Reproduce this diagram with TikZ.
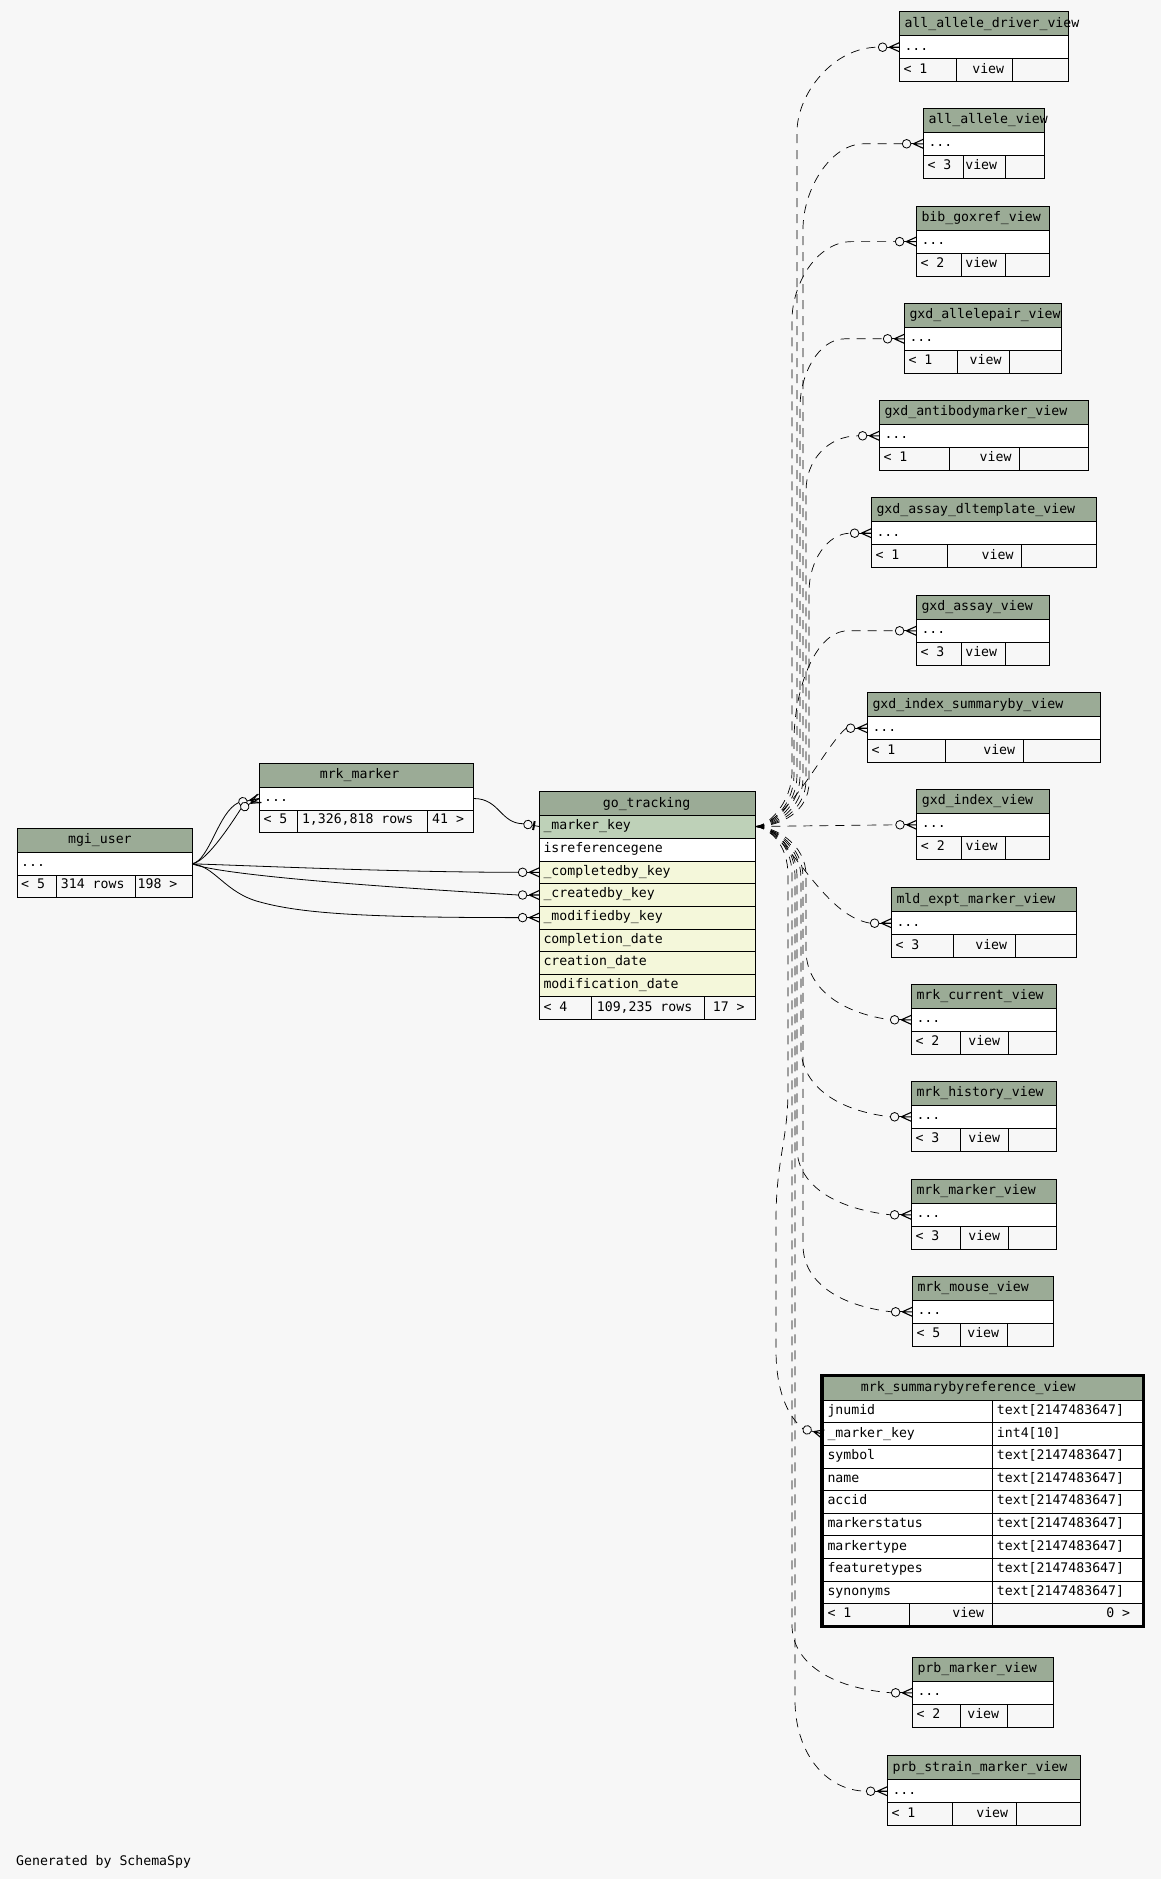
\documentclass[tikz,border=0pt]{standalone}
\usepackage{fontspec}
\newfontfamily\monofam{DejaVu Sans Mono}
\newcommand\tf{\monofam\fontsize{13.2pt}{15pt}\selectfont}
\definecolor{hdr}{HTML}{9BAB96}
\definecolor{pkc}{HTML}{BED1B8}
\definecolor{fkc}{HTML}{F4F7DA}
\definecolor{bgc}{HTML}{F7F7F7}
\tikzset{
 tbl/.style={draw=black,line width=0.9pt},
 txt/.style={anchor=base west,inner sep=0pt,font=\tf},
 conn/.style={line width=0.7pt,dash pattern=on 9pt off 7pt},
 rel/.style={line width=0.8pt},
}
% view table: #1 name, #2 left, #3 top, #4 right, #5 div1, #6 div2, #7 title, #8 count
\newcommand\vtab[8]{%
  \fill[hdr] (#2,#3) rectangle (#4,#3+24);
  \fill[white] (#2,#3+24) rectangle (#4,#3+47);
  \draw[tbl] (#2,#3) rectangle (#4,#3+70);
  \draw[tbl] (#2,#3+24) -- (#4,#3+24) (#2,#3+47) -- (#4,#3+47)
             (#5,#3+47) -- (#5,#3+70) (#6,#3+47) -- (#6,#3+70);
  \node[txt] (#1-title) at (#2+5,#3+15.5) {#7};
  \node[txt] (#1-dots) at (#2+5,#3+38.5) {...};
  \node[txt] (#1-count) at (#2+4,#3+61.5) {< #8};
  \node[txt,anchor=base east] (#1-kind) at (#6-8,#3+61.5) {view};
  \coordinate (#1) at (#2,#3+35.5);
}
\newcommand\crowodot[2]{%
  \begin{scope}[shift={(#1)},rotate=#2]
    \draw[line width=1.1pt] (-10,0) -- (0,-4.5) (-10,0) -- (0,0) (-10,0) -- (0,4.5);
    \draw[line width=0.8pt] (-12.4,0) -- (-10,0);
    \draw[line width=0.8pt,fill=bgc] (-16.7,0) circle[radius=4.3pt];
    \coordinate (#1-e) at (-21,0);
  \end{scope}}
\newcommand\teeodot[2]{%
  \begin{scope}[shift={(#1)},rotate=#2]
    \draw[line width=0.8pt] (-7,0) -- (0,0);
    \draw[line width=2pt] (-5.5,-4.5) -- (-5.5,4.5);
    \draw[line width=0.8pt,fill=bgc] (-11.5,0) circle[radius=4.3pt];
    \coordinate (#1-e) at (-15.8,0);
  \end{scope}}
\begin{document}
\begin{tikzpicture}[x=1pt,y=-1pt]
\fill[bgc] (0,0) rectangle (1161,1879);
\useasboundingbox (0,0) rectangle (1161,1879);

% ---------- mgi_user ----------
\fill[hdr] (17.1,828.3) rectangle (192.1,852.3);
\fill[white] (17.1,852.3) rectangle (192.1,875.3);
\draw[tbl] (17.1,828.3) rectangle (192.1,897.3);
\draw[tbl] (17.1,852.3) -- (192.1,852.3) (17.1,875.3) -- (192.1,875.3)
  (56.4,875.3) -- (56.4,897.3) (135.4,875.3) -- (135.4,897.3);
\node[txt] (mu-title) at (67.9,843.8) {mgi\_user};
\node[txt] (mu-dots) at (21,866.8) {...};
\node[txt] (mu-c1) at (21,888.8) {< 5};
\node[txt] (mu-c2) at (60.7,888.8) {314 rows};
\node[txt] (mu-c3) at (137.5,888.8) {198 >};
\coordinate (muR) at (192.1,863.8);

% ---------- mrk_marker ----------
\fill[hdr] (259.3,763.3) rectangle (473.6,787);
\fill[white] (259.3,787) rectangle (473.6,810);
\draw[tbl] (259.3,763.3) rectangle (473.6,832);
\draw[tbl] (259.3,787) -- (473.6,787) (259.3,810) -- (473.6,810)
  (297.5,810) -- (297.5,832) (427.5,810) -- (427.5,832);
\node[txt] (mm-title) at (319.6,778.5) {mrk\_marker};
\node[txt] (mm-dots) at (264,801.5) {...};
\node[txt] (mm-c1) at (263.3,823.5) {< 5};
\node[txt] (mm-c2) at (301.8,823.5) {1,326,818 rows};
\node[txt] (mm-c3) at (432,823.5) {41 >};
\coordinate (mmR) at (473.6,798.5);
\coordinate (mmLa) at (259.3,798.5);
\coordinate (mmLb) at (259.3,798.5);

% ---------- go_tracking ----------
\fill[hdr] (539.3,791.7) rectangle (755.3,815.7);
\fill[pkc] (539.3,815.7) rectangle (755.3,838.35);
\fill[white] (539.3,838.35) rectangle (755.3,861);
\fill[fkc] (539.3,861) rectangle (755.3,996.9);
\draw[tbl] (539.3,791.7) rectangle (755.3,1019.55);
\foreach \yy in {815.7,838.35,861,883.65,906.3,928.95,951.6,974.25,996.9}
  \draw[tbl] (539.3,\yy) -- (755.3,\yy);
\draw[tbl] (591.7,996.9) -- (591.7,1019.55) (704.3,996.9) -- (704.3,1019.55);
\node[txt] (go-title) at (602.7,807.2) {go\_tracking};
\foreach \t [count=\i] in {\_marker\_key,isreferencegene,\_completedby\_key,\_createdby\_key,\_modifiedby\_key,completion\_date,creation\_date,modification\_date}
  \node[txt] (go-\i) at (543.3,815.7+22.65*\i-8.5) {\t};
\node[txt] (go-c1) at (543.3,1011) {< 4};
\node[txt] (go-c2) at (596.7,1011) {109,235 rows};
\node[txt] (go-c3) at (712.7,1011) {17 >};
\coordinate (gtR) at (755.3,826.5);
\coordinate (gtL) at (539.3,826.5);
\coordinate (gcb) at (539.3,872.3);
\coordinate (gcr) at (539.3,895.0);
\coordinate (gmb) at (539.3,917.6);

% ---------- views ----------
\vtab{v1}{899.3}{11.7}{1068.3}{956.3}{1012.3}{all\_allele\_driver\_view}{1}
\vtab{v2}{923.3}{108.3}{1044.3}{963}{1005.3}{all\_allele\_view}{3}
\vtab{v3}{916.3}{206.1}{1049.3}{961.3}{1005.3}{bib\_goxref\_view}{2}
\vtab{v4}{904.3}{303.3}{1061.3}{957.3}{1009.7}{gxd\_allelepair\_view}{1}
\vtab{v5}{879.3}{400.3}{1088.3}{949.3}{1019.7}{gxd\_antibodymarker\_view}{1}
\vtab{v6}{871.3}{497.7}{1096.3}{947.3}{1021.7}{gxd\_assay\_dltemplate\_view}{1}
\vtab{v7}{916.3}{595.3}{1049.3}{961.3}{1005.3}{gxd\_assay\_view}{3}
\vtab{v8}{867.3}{692.7}{1100.3}{945.3}{1023.3}{gxd\_index\_summaryby\_view}{1}
\vtab{v9}{916.7}{789.3}{1049.3}{961.3}{1005.7}{gxd\_index\_view}{2}
\vtab{v10}{891.3}{887.7}{1076.3}{953.3}{1015.3}{mld\_expt\_marker\_view}{3}
\vtab{v11}{911.3}{984.3}{1056.3}{960.3}{1008.3}{mrk\_current\_view}{2}
\vtab{v12}{911.3}{1081.3}{1056.3}{960.3}{1008.3}{mrk\_history\_view}{3}
\vtab{v13}{911.3}{1179.3}{1056.3}{960.3}{1008.3}{mrk\_marker\_view}{3}
\vtab{v14}{912.3}{1276.3}{1053.3}{960.3}{1007.3}{mrk\_mouse\_view}{5}
\vtab{v16}{912.3}{1657.3}{1053.3}{960.3}{1007.3}{prb\_marker\_view}{2}
\vtab{v17}{887.3}{1755.7}{1080.3}{952.3}{1016.3}{prb\_strain\_marker\_view}{1}

% ---------- mrk_summarybyreference_view ----------
\fill[hdr] (823.3,1376.7) rectangle (1142.3,1400.3);
\fill[white] (823.3,1400.3) rectangle (1142.3,1603.7);
\draw[tbl] (823.3,1376.7) rectangle (1142.3,1626.3);
\foreach \yy in {1400.3,1422.9,1445.5,1468.1,1490.7,1513.3,1535.9,1558.5,1581.1,1603.7}
  \draw[tbl] (823.3,\yy) -- (1142.3,\yy);
\draw[tbl] (992.3,1400.3) -- (992.3,1626.3) (909,1603.7) -- (909,1626.3);
\draw[line width=3pt] (821.5,1375.3) rectangle (1143.3,1626.8);
\node[txt] (ms-title) at (860.7,1391.8) {mrk\_summarybyreference\_view};
\foreach \n/\ty [count=\i] in {jnumid/text[2147483647],\_marker\_key/int4[10],symbol/text[2147483647],name/text[2147483647],accid/text[2147483647],markerstatus/text[2147483647],markertype/text[2147483647],featuretypes/text[2147483647],synonyms/text[2147483647]}
{
  \node[txt] (ms-n\i) at (827.3,1400.3+22.6*\i-8.5) {\n};
  \node[txt] (ms-t\i) at (996.7,1400.3+22.6*\i-8.5) {\ty};
}
\node[txt] (ms-c1) at (827.3,1617.8) {< 1};
\node[txt,anchor=base east] (ms-c2) at (984.3,1617.8) {view};
\node[txt,anchor=base east] (ms-c3) at (1130.3,1617.8) {0 >};
\coordinate (msk) at (823.3,1434.2);

% ---------- arrow ends ----------
\teeodot{gtL}{-10}
\crowodot{mmLa}{11}
\crowodot{mmLb}{29}
\crowodot{gcb}{0}
\crowodot{gcr}{0}
\crowodot{gmb}{0}
\foreach \v in {v1,v2,v3,v4,v5,v6,v7,v8,v9,v10,v11,v12,v13,v14,v16,v17}
  {\crowodot{\v}{0}}
\crowodot{msk}{-15}

% ---------- solid relationships ----------
\draw[rel] (mmR) .. controls (500,798.5) and (500,823.8) .. (gtL-e);
\draw[rel] (muR) .. controls (210,860) and (218,812) .. (mmLa-e);
\draw[rel] (muR) .. controls (205,862) and (226,832) .. (mmLb-e);
\draw[rel] (muR) .. controls (260,866) and (400,872.3) .. (gcb-e);
\draw[rel] (muR) .. controls (215,873) and (330,884) .. (gcr-e);
\draw[rel] (muR) .. controls (215,866) and (225,893) .. (260,902) .. controls (300,913) and (360,917.6) .. (gmb-e);

% ---------- implied (dashed) relationships ----------
\draw[conn] (gtR) .. controls (772,826.5) and (797,805) .. (797,775) -- (797,132) .. controls (797,94) and (833,47.2) .. (v1-e);
\draw[conn] (gtR) .. controls (776,826.5) and (803,808) .. (803,778) -- (803,229) .. controls (803,190) and (830,143.8) .. (864,143.8) -- (v2-e);
\draw[conn] (gtR) .. controls (768,826.5) and (792,802) .. (792,772) -- (792,320) .. controls (792,285) and (816,241.6) .. (852,241.6) -- (v3-e);
\draw[conn] (gtR) .. controls (774,826.5) and (800,806) .. (800,776) -- (800,407) .. controls (800,375) and (818,338.8) .. (845,338.8) -- (v4-e);
\draw[conn] (gtR) .. controls (778,826.5) and (806,810) .. (806,780) -- (806,491) .. controls (806,460) and (828,435.8) .. (v5-e);
\draw[conn] (gtR) .. controls (780,826.5) and (809,812) .. (809,782) -- (809,592) .. controls (809,560) and (828,533.2) .. (v6-e);
\draw[conn] (gtR) .. controls (770,826.5) and (794,805) .. (794,775) -- (794,741) .. controls (794,690) and (815,630.8) .. (848,630.8) -- (v7-e);
\draw[conn] (gtR) .. controls (790,822) and (825,745) .. (v8-e);
\draw[conn] (gtR) -- (v9-e);
\draw[conn] (gtR) .. controls (790,830) and (820,915) .. (v10-e);
\draw[conn] (gtR) .. controls (776,826.5) and (806,845) .. (806,875) -- (806,950) .. controls (806,985) and (836,1012) .. (v11-e);
\draw[conn] (gtR) .. controls (774,826.5) and (801,848) .. (801,878) -- (801,1048) .. controls (801,1082) and (832,1110) .. (v12-e);
\draw[conn] (gtR) .. controls (771,826.5) and (797,846) .. (797,876) -- (797,1148) .. controls (797,1182) and (830,1208) .. (v13-e);
\draw[conn] (gtR) .. controls (775,826.5) and (803,847) .. (803,877) -- (803,1245) .. controls (803,1279) and (834,1305) .. (v14-e);
\draw[conn] (gtR) .. controls (770,828) and (788,845) .. (788,875) -- (788,1090) .. controls (788,1140) and (776,1160) .. (776,1220) -- (776,1350) .. controls (776,1395) and (790,1418) .. (msk-e);
\draw[conn] (gtR) .. controls (769,826.5) and (792,844) .. (792,874) -- (792,1625) .. controls (792,1662) and (830,1688) .. (v16-e);
\draw[conn] (gtR) .. controls (772,826.5) and (795,846) .. (795,876) -- (795,1700) .. controls (795,1752) and (825,1790.7) .. (v17-e);

\node[txt] (gen) at (16,1865.7) {Generated by SchemaSpy};
\end{tikzpicture}
\end{document}
